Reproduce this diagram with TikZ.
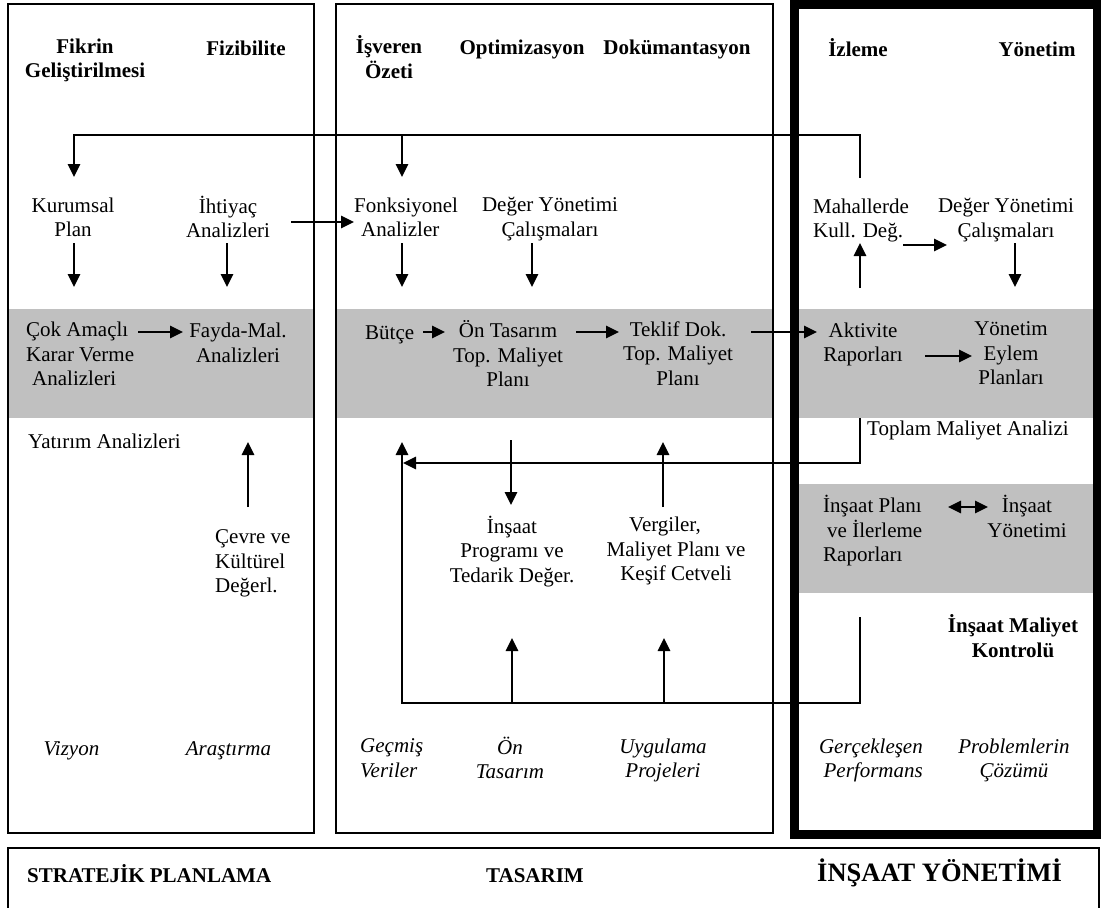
\documentclass[tikz,border=0pt]{standalone}
\usepackage{fontspec}
\setmainfont{Liberation Serif}
\usetikzlibrary{arrows.meta}
\definecolor{bandgray}{RGB}{192,192,192}

\begin{document}
\begin{tikzpicture}[x=1pt,y=-1pt,
  txt/.style={inner sep=0pt, align=center, font=\fontsize{21}{24.5}\selectfont,
    execute at begin node={\rule{0pt}{19pt}},
    execute at end node={\rule[-7pt]{0pt}{7pt}}},
  hd/.style={txt, font=\fontsize{21}{24.5}\selectfont\bfseries},
  it/.style={txt, font=\fontsize{21}{24.5}\selectfont\itshape},
  frame/.style={line width=1.5pt},
  heavy/.style={line width=9pt},
  band/.style={fill=bandgray, draw=none},
  conn/.style={line width=1.7pt},
  arr/.style={conn, -{Triangle[length=13pt,width=12.5pt]}},
  dbl/.style={conn, {Triangle[length=13pt,width=12.5pt]}-{Triangle[length=13pt,width=12.5pt]}}
]
\useasboundingbox (0,0) rectangle (1101,908);

% grey phase bands
\fill[band] (8,309) rectangle (314,418);
\fill[band] (336,309) rectangle (773,418);
\fill[band] (794,309) rectangle (1097,418);
\fill[band] (794,484) rectangle (1097,593);

% column frames
\draw[frame] (8,4) rectangle (314,833);
\draw[frame] (336,4) rectangle (773,833);
\draw[heavy] (794,4.5) rectangle (1097,834);
\begin{scope}
  \clip (0,0) rectangle (1101,908);
  \draw[frame] (8,848) rectangle (1099,920);
\end{scope}

% column headings
\node[hd] (hFikrin) at (85,61.5) {Fikrin\\Geliştirilmesi};
\node[hd] (hFizibilite) at (246,49) {Fizibilite};
\node[hd] (hIsveren) at (389,60.5) {İşveren\\Özeti};
\node[hd] (hOptim) at (522,48.5) {Optimizasyon};
\node[hd] (hDokum) at (677,48.5) {Dokümantasyon};
\node[hd] (hIzleme) at (858,50) {İzleme};
\node[hd] (hYonetim) at (1037,50) {Yönetim};

% second row
\node[txt] (kurumsal) at (73,220.5) {Kurumsal\\Plan};
\node[txt] (ihtiyac) at (228,220.5) {İhtiyaç\\Analizleri};
\node[txt, align=left, anchor=west] (fonks) at (354,220.5) {Fonksiyonel\\\hspace*{7pt}Analizler};
\node[txt] (deger1) at (550,220.5) {Değer Yönetimi\\Çalışmaları};
\node[txt, align=left, anchor=west] (mahal) at (813,221.5) {Mahallerde\\Kull. Değ.};
\node[txt] (deger2) at (1006,221.5) {Değer Yönetimi\\Çalışmaları};

% grey band contents
\node[txt, align=left, anchor=west] (cok) at (26,357.5) {Çok Amaçlı\\Karar Verme\\\hspace*{6pt}Analizleri};
\node[txt] (fayda) at (238,346) {Fayda-Mal.\\Analizleri};
\node[txt, anchor=west] (butce) at (365,333) {Bütçe};
\node[txt] (ontas) at (508,357) {Ön Tasarım\\Top. Maliyet\\Planı};
\node[txt] (teklif) at (678,357) {Teklif Dok.\\Top. Maliyet\\Planı};
\node[txt] (aktivite) at (863,345.5) {Aktivite\\Raporları};
\node[txt] (eylem) at (1011,357) {Yönetim\\Eylem\\Planları};

% lower items
\node[txt, anchor=west] (yatirim) at (28,442) {Yatırım Analizleri};
\node[txt, align=left, anchor=west] (cevre) at (215,565) {Çevre ve\\Kültürel\\Değerl.};
\node[txt] (insprog) at (512,552.5) {İnşaat\\Programı ve\\Tedarik Değer.};
\node[txt] (vergi) at (676,552.5) {Vergiler,\hspace*{22pt}\\Maliyet Planı ve\\Keşif Cetveli};
\node[txt, anchor=west] (toplam) at (867,429) {Toplam Maliyet Analizi};
\node[txt, align=left, anchor=west] (insplan) at (823,532) {İnşaat Planı\\\hspace*{4pt}ve İlerleme\\Raporları};
\node[txt] (insyon) at (1027,520) {İnşaat\\Yönetimi};
\node[hd] (kontrol) at (1013,639.5) {İnşaat Maliyet\\Kontrolü};

% inputs (italic)
\node[it] (vizyon) at (71.5,749) {Vizyon};
\node[it] (arastirma) at (228.5,749) {Araştırma};
\node[it, align=left, anchor=west] (gecmis) at (360,761.5) {Geçmiş\\Veriler};
\node[it] (ontasarim) at (510,761.5) {Ön\\Tasarım};
\node[it] (uygulama) at (663,761.5) {Uygulama\\Projeleri};
\node[it, align=right, anchor=east] (gercek) at (923,761.5) {Gerçekleşen\\Performans};
\node[it] (problem) at (1014,761.5) {Problemlerin\\Çözümü};

% phase titles
\node[hd, anchor=west] (strat) at (27,876) {STRATEJİK PLANLAMA};
\node[hd, anchor=west] (tasarim) at (486,876) {TASARIM};
\node[hd, anchor=west, font=\fontsize{26.5}{30}\selectfont\bfseries] (insyonetimi) at (817,874) {İNŞAAT YÖNETİMİ};

% connector end points
\coordinate (mahalUp) at (860,178);
\coordinate (loopTR) at (860,135);
\coordinate (loopTL) at (74,135);
\coordinate (kurIn) at (74,177);
\coordinate (isvOut) at (402,135);
\coordinate (isvIn) at (402,177);

\coordinate (kurA) at (74,243);    \coordinate (kurB) at (74,287);
\coordinate (ihtA) at (227,243);   \coordinate (ihtB) at (227,287);
\coordinate (fonA) at (402,243);   \coordinate (fonB) at (402,287);
\coordinate (degA) at (532,243);   \coordinate (degB) at (532,287);
\coordinate (deg2A) at (1015,243); \coordinate (deg2B) at (1015,287);
\coordinate (aktUp) at (860,288);  \coordinate (mahalDn) at (860,243);

\coordinate (ihtR) at (291,222);   \coordinate (fonL) at (354,222);
\coordinate (kullR) at (903,245);  \coordinate (deg2L) at (947,245);
\coordinate (cokR) at (138,332);   \coordinate (faydaL) at (183,332);
\coordinate (butR) at (423,332);   \coordinate (onL) at (445,332);
\coordinate (onR) at (576,332);    \coordinate (tekL) at (619,332);
\coordinate (tekR) at (751,332);   \coordinate (aktL) at (817,332);
\coordinate (rapR) at (925,356);   \coordinate (eylL) at (972,356);
\coordinate (plnR) at (948,507);   \coordinate (yonL) at (988,507);

\coordinate (cevUp) at (248,507);  \coordinate (faydaDn) at (248,442);
\coordinate (onDn) at (511,440);   \coordinate (insTop) at (511,505);
\coordinate (verUp) at (663,507);  \coordinate (tekDn) at (663,442);
\coordinate (bot1) at (512,703);   \coordinate (insBot) at (512,638);
\coordinate (bot2) at (664,703);   \coordinate (verBot) at (664,638);

\coordinate (tmaTop) at (860,418); \coordinate (tmaCorner) at (860,463);
\coordinate (loopIn) at (403,463);
\coordinate (ctrlTop) at (860,617); \coordinate (ctrlCorner) at (860,703);
\coordinate (loopBL) at (402,703); \coordinate (butIn) at (402,442);

% feedback loops
\draw[arr] (mahalUp) -- (loopTR) -- (loopTL) -- (kurIn);
\draw[arr] (isvOut) -- (isvIn);
\draw[arr] (tmaTop) -- (tmaCorner) -- (loopIn);
\draw[arr] (ctrlTop) -- (ctrlCorner) -- (loopBL) -- (butIn);

% vertical flows
\draw[arr] (kurA) -- (kurB);
\draw[arr] (ihtA) -- (ihtB);
\draw[arr] (fonA) -- (fonB);
\draw[arr] (degA) -- (degB);
\draw[arr] (deg2A) -- (deg2B);
\draw[arr] (aktUp) -- (mahalDn);
\draw[arr] (cevUp) -- (faydaDn);
\draw[arr] (onDn) -- (insTop);
\draw[arr] (verUp) -- (tekDn);
\draw[arr] (bot1) -- (insBot);
\draw[arr] (bot2) -- (verBot);

% horizontal flows
\draw[arr] (ihtR) -- (fonL);
\draw[arr] (kullR) -- (deg2L);
\draw[arr] (cokR) -- (faydaL);
\draw[arr] (butR) -- (onL);
\draw[arr] (onR) -- (tekL);
\draw[arr] (tekR) -- (aktL);
\draw[arr] (rapR) -- (eylL);
\draw[dbl] (plnR) -- (yonL);
\end{tikzpicture}
\end{document}
